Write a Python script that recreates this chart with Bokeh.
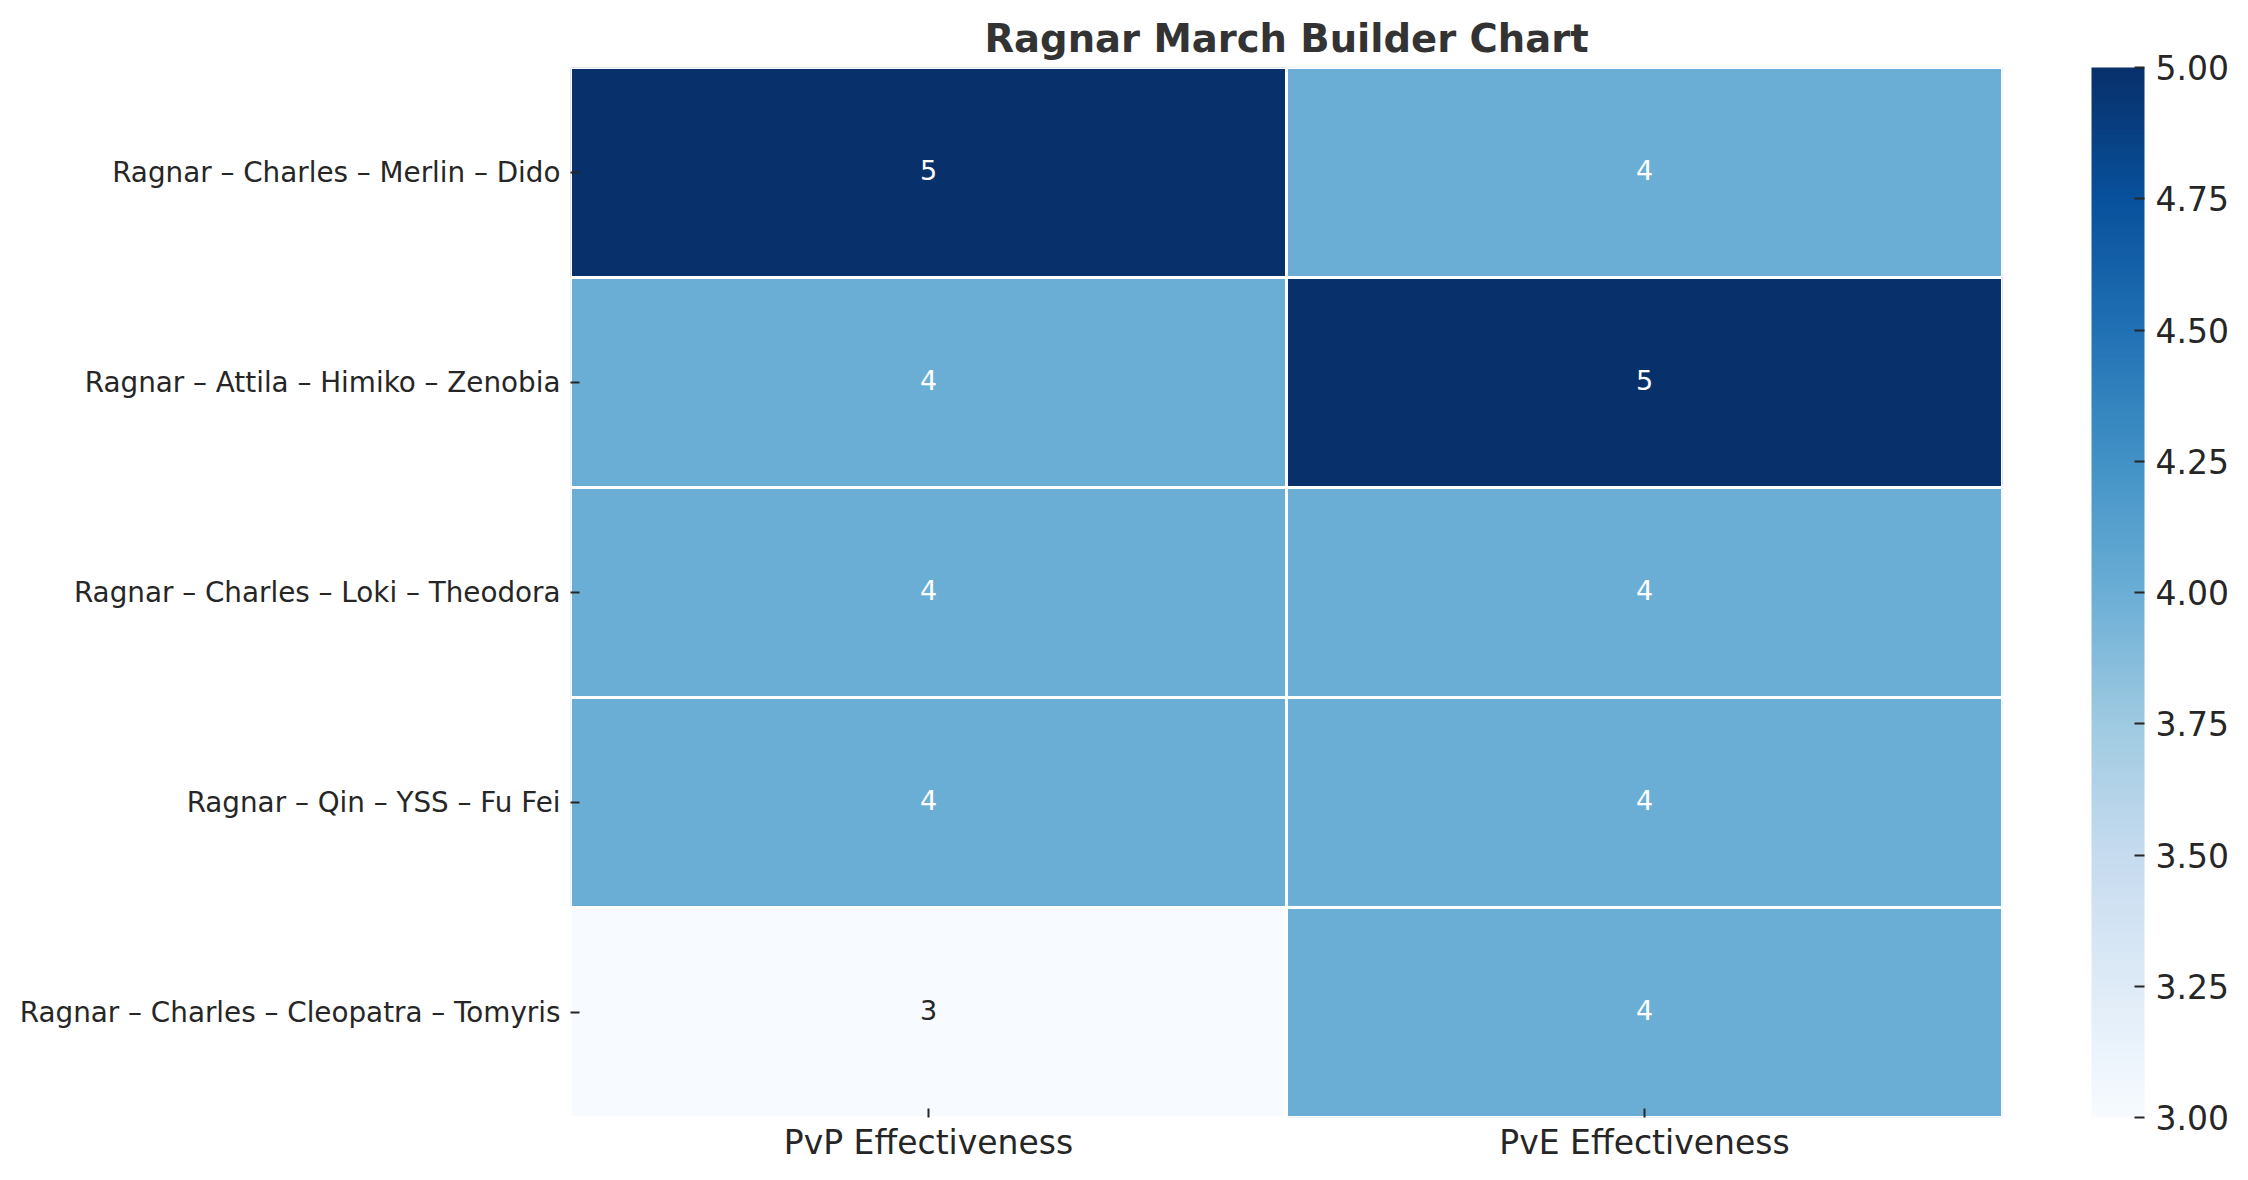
from bokeh.plotting import figure
from bokeh.models import (ColumnDataSource, LinearColorMapper, ColorBar, FixedTicker,
                          NumeralTickFormatter, FactorRange)
from bokeh.palettes import Blues256
from bokeh.transform import transform
from bokeh.core.properties import value
from bokeh.embed import file_html
from bokeh.resources import INLINE

# ---- data ----
marches = [
    "Ragnar – Charles – Merlin – Dido",
    "Ragnar – Attila – Himiko – Zenobia",
    "Ragnar – Charles – Loki – Theodora",
    "Ragnar – Qin – YSS – Fu Fei",
    "Ragnar – Charles – Cleopatra – Tomyris",
]
metrics = ["PvP Effectiveness", "PvE Effectiveness"]
pvp = [5, 4, 4, 4, 3]
pve = [4, 5, 4, 4, 4]
cbar_ticks = [3.0, 3.25, 3.5, 3.75, 4.0, 4.25, 4.5, 4.75, 5.0]
title_text = "Ragnar March Builder Chart"

FONT = "DejaVu Sans"
DARK = "#262626"

xs, ys, vs, labels, tcs = [], [], [], [], []
for m, a, b in zip(marches, pvp, pve):
    for metric, v in zip(metrics, (a, b)):
        xs.append(metric)
        ys.append(m)
        vs.append(v)
        labels.append(str(v))
        tcs.append("white" if v >= 4 else DARK)
src = ColumnDataSource(dict(x=xs, y=ys, v=vs, label=labels, tc=tcs))

mapper = LinearColorMapper(palette=list(Blues256[::-1]), low=3, high=5)

FW, FH = 1432, 1050
p = figure(
    x_range=FactorRange(*metrics),
    y_range=FactorRange(*reversed(marches)),
    frame_width=FW, frame_height=FH,
    min_border_left=570, min_border_top=67, min_border_bottom=60, min_border_right=230,
    output_backend="svg", toolbar_location=None,
    title=title_text,
)

p.rect(x="x", y="y", width=1, height=1, source=src,
       fill_color=transform("v", mapper), line_color="white", line_width=3)
p.text(x="x", y="y", text="label", source=src, text_align="center",
       text_baseline="middle", text_font_size="27px", text_color="tc",
       text_font=value(FONT), y_offset=-3)

p.title.text_font = FONT
p.title.text_font_size = "38.5px"
p.title.text_font_style = "bold"
p.title.text_color = "#333333"
p.title.align = "center"
p.title.standoff = 13

p.outline_line_color = None
p.xgrid.grid_line_color = None
p.ygrid.grid_line_color = None
for ax in (p.xaxis[0], p.yaxis[0]):
    ax.axis_line_color = None
    ax.major_tick_line_color = DARK
    ax.major_tick_line_width = 2
    ax.major_tick_out = 0
    ax.major_tick_in = 9
    ax.minor_tick_line_color = None
    ax.major_label_text_font = FONT
    ax.major_label_text_color = DARK
p.xaxis.major_label_text_font_size = "33px"
p.xaxis.major_label_standoff = 5
p.yaxis.major_label_text_font_size = "27.8px"
p.yaxis.major_label_standoff = 10

cb = ColorBar(
    color_mapper=mapper, ticker=FixedTicker(ticks=cbar_ticks),
    formatter=NumeralTickFormatter(format="0.00"),
    width=53, height=FH, margin=0, padding=0,
    location=(FW + 89, 0),
    major_label_text_font_size="33px", major_label_text_font=FONT,
    major_label_text_color=DARK,
    major_tick_out=0, major_tick_in=10, major_tick_line_color=DARK,
    major_tick_line_width=2, minor_tick_line_color=None,
    bar_line_color=None, border_line_color=None, label_standoff=11,
    background_fill_alpha=0,
)
p.add_layout(cb, "center")

open("out.html", "w").write(file_html(p, INLINE))
